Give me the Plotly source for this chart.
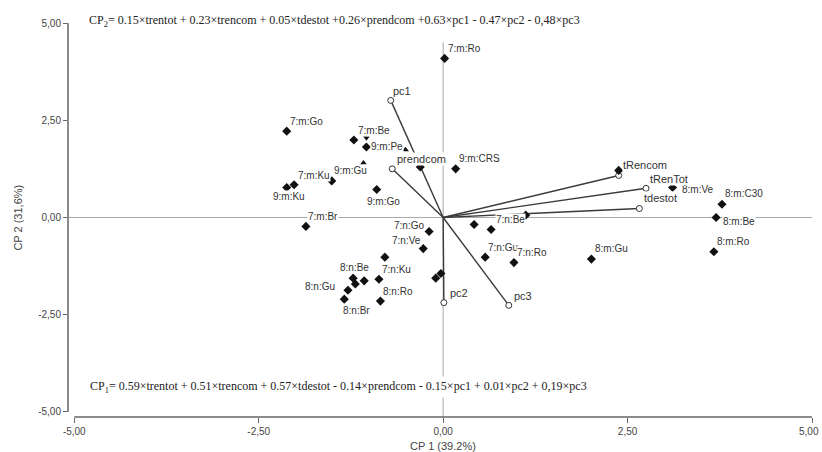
import plotly.graph_objects as go

# ---------------- data ----------------
obs_names = ["7:m:Ro", "7:m:Go", "7:m:Be", "9:m:Pe", "7:m:Ku", "9:m:Ku", "", "9:m:Go",
             "7:m:Br", "", "9:m:CRS", "7:n:Go", "7:n:Ve", "", "8:n:Be", "", "",
             "7:n:Ku", "8:n:Gu", "8:n:Br", "8:n:Ro", "", "", "", "7:n:Be", "",
             "7:n:Gu", "7:n:Ro", "", "8:m:Ve", "8:m:C30", "8:m:Be", "8:m:Ro", "8:m:Gu"]
obs_x = [0.02, -2.12, -1.21, -1.04, -1.51, -2.12, -2.02, -0.90,
         -1.86, -0.31, 0.17, -0.19, -0.27, -0.79, -1.22, -1.19, -1.07,
         -0.87, -1.29, -1.34, -0.85, -0.10, -0.03, 0.42, 0.65, 1.12,
         0.57, 0.96, 2.38, 3.11, 3.78, 3.70, 3.67, 2.01]
obs_y = [4.09, 2.22, 1.99, 1.81, 0.94, 0.77, 0.84, 0.72,
         -0.23, 1.30, 1.25, -0.36, -0.80, -1.02, -1.56, -1.71, -1.63,
         -1.59, -1.87, -2.10, -2.15, -1.56, -1.44, -0.18, -0.31, 0.06,
         -1.02, -1.16, 1.21, 0.77, 0.34, 0.00, -0.88, -1.07]

tri_up_names = ["", "9:m:Gu"]
tri_up_x = [-0.51, -1.08]
tri_up_y = [1.74, 1.40]
tri_down_x = [-1.04]
tri_down_y = [2.05]

var_names = ["tRencom", "tRenTot", "tdestot", "prendcom", "pc1", "pc2", "pc3"]
var_x = [2.38, 2.75, 2.66, -0.69, -0.71, 0.01, 0.89]
var_y = [1.08, 0.75, 0.23, 1.25, 3.01, -2.19, -2.26]

tick_vals = [-5, -2.5, 0, 2.5, 5]
tick_text = ["-5,00", "-2,50", "0,00", "2,50", "5,00"]

eq_cp2 = ("CP<sub>2</sub>= 0.15×trentot + 0.23×trencom + 0.05×tdestot +0.26×prendcom "
          "+0.63×pc1 - 0.47×pc2 - 0,48×pc3")
eq_cp1 = ("CP<sub>1</sub>= 0.59×trentot + 0.51×trencom + 0.57×tdestot - 0.14×prendcom "
          "- 0.15×pc1 + 0.01×pc2 + 0,19×pc3")
x_title = "CP 1 (39.2%)"
y_title = "CP 2 (31,6%)"

# ---------------- label offsets (pixels: right, down) ----------------
label_offsets = {
    "7:m:Ro": (20, -10), "7:m:Go": (20, -10), "7:m:Be": (20, -10), "9:m:Pe": (21, -1),
    "9:m:Gu": (-13, 7), "7:m:Ku": (-18, -5), "9:m:Ku": (2, 9), "9:m:Go": (7, 12),
    "7:m:Br": (17, -10), "9:m:CRS": (24, -10), "7:n:Go": (-20, -6), "7:n:Ve": (-17, -8),
    "8:n:Be": (1, -11), "7:n:Ku": (18, -10), "8:n:Gu": (-28, -4), "8:n:Br": (12, 11),
    "8:n:Ro": (18, -10), "7:n:Be": (19, -10), "7:n:Gu": (18, -10), "7:n:Ro": (18, -10),
    "8:m:Ve": (25, 2), "8:m:C30": (22, -11), "8:m:Be": (23, 4), "8:m:Ro": (20, -10),
    "8:m:Gu": (20, -11),
    "tRencom": (26, -10), "tRenTot": (23, -9), "tdestot": (21, -11), "prendcom": (29, -10),
    "pc1": (11, -9), "pc2": (15, -10), "pc3": (14, -9),
}

X_RANGE = [-5.085, 5.0]
Y_RANGE = [-5.13, 5.0]
SANS = "Liberation Sans, Arial, sans-serif"
SERIF = "Liberation Serif, Times New Roman, serif"
LABEL_COLOR = "#333333"
TICK_FONT = dict(family=SANS, size=10, color="#444444")

fig = go.Figure()

# vectors
for name, vx, vy in zip(var_names, var_x, var_y):
    fig.add_trace(go.Scatter(x=[0, vx], y=[0, vy], mode="lines",
                             line=dict(color="#3a3a3a", width=1.4),
                             hoverinfo="skip", showlegend=False))
fig.add_trace(go.Scatter(x=var_x, y=var_y, mode="markers",
                         marker=dict(symbol="circle", size=6, color="white",
                                     line=dict(color="#333333", width=1)),
                         showlegend=False))

# observations
fig.add_trace(go.Scatter(x=obs_x, y=obs_y, mode="markers",
                         marker=dict(symbol="diamond", size=7, color="#111111"),
                         showlegend=False))
fig.add_trace(go.Scatter(x=tri_up_x, y=tri_up_y, mode="markers",
                         marker=dict(symbol="triangle-up", size=6, color="#111111"),
                         showlegend=False))
fig.add_trace(go.Scatter(x=tri_down_x, y=tri_down_y, mode="markers",
                         marker=dict(symbol="triangle-down", size=6, color="#111111"),
                         showlegend=False))

annotations = []


def add_label(name, x, y, size):
    if not name:
        return
    dx, dy = label_offsets.get(name, (18, -10))
    annotations.append(dict(x=x, y=y, xref="x", yref="y", text=name, showarrow=False,
                            xshift=dx, yshift=-dy, bgcolor="white", borderpad=0,
                            font=dict(family=SANS, size=size, color=LABEL_COLOR)))


for n, x, y in zip(obs_names, obs_x, obs_y):
    add_label(n, x, y, 10)
for n, x, y in zip(tri_up_names, tri_up_x, tri_up_y):
    add_label(n, x, y, 10)
for n, x, y in zip(var_names, var_x, var_y):
    add_label(n, x, y, 11)

# equations
annotations.append(dict(x=0.025, y=1.005, xref="paper", yref="paper", text=eq_cp2,
                        showarrow=False, xanchor="left", yanchor="middle",
                        font=dict(family=SERIF, size=12, color="#222222")))
annotations.append(dict(x=0.025, y=0.076, xref="paper", yref="paper", text=eq_cp1,
                        showarrow=False, xanchor="left", yanchor="middle",
                        bgcolor="white", borderpad=2,
                        font=dict(family=SERIF, size=12, color="#222222")))
# axis titles
annotations.append(dict(x=0, y=-0.073, xref="x", yref="paper", text=x_title,
                        showarrow=False, yanchor="middle",
                        font=dict(family=SANS, size=11, color="#444444")))
annotations.append(dict(x=-0.067, y=0, xref="paper", yref="y", text=y_title,
                        showarrow=False, textangle=-90, xanchor="center",
                        font=dict(family=SANS, size=11, color="#444444")))
# last x tick label, nudged left so it stays inside the page
annotations.append(dict(x=tick_vals[-1], y=-0.036, xref="x", yref="paper",
                        text=tick_text[-1], showarrow=False, xanchor="center",
                        yanchor="middle", xshift=-3, font=TICK_FONT))

shapes = [
    # reference lines
    dict(type="line", xref="paper", yref="y", x0=0, x1=1, y0=0, y1=0,
         line=dict(color="#a8a8a8", width=1), layer="below"),
    dict(type="line", xref="x", yref="y", x0=0, x1=0, y0=4.5, y1=Y_RANGE[0],
         line=dict(color="#a8a8a8", width=1), layer="below"),
    # axis lines
    dict(type="line", xref="paper", yref="y", x0=0, x1=0, y0=-5, y1=5,
         line=dict(color="#666666", width=1.5)),
    dict(type="line", xref="x", yref="paper", x0=-5, x1=5, y0=0, y1=0,
         line=dict(color="#666666", width=1.5)),
]

fig.update_layout(
    width=822, height=452,
    margin=dict(l=68, r=10, t=23, b=35),
    paper_bgcolor="white", plot_bgcolor="white",
    showlegend=False,
    hovermode=False,
    annotations=annotations,
    shapes=shapes,
    xaxis=dict(range=X_RANGE, tickvals=tick_vals, ticktext=tick_text[:-1] + [""],
               showgrid=False, zeroline=False, showline=False, automargin=False,
               ticks="outside", ticklen=5, tickcolor="#666666",
               tickfont=TICK_FONT),
    yaxis=dict(range=Y_RANGE, tickvals=tick_vals, ticktext=tick_text,
               showgrid=False, zeroline=False, showline=False, automargin=False,
               ticks="outside", ticklen=4, tickcolor="#666666",
               tickfont=TICK_FONT),
)

# remove the browser's default page margin so the 822x452 figure fills the window
fig.write_html("out.html",
               config={"displayModeBar": False},
               post_script="document.body.style.margin='0';"
                           "document.body.style.overflow='hidden';")
